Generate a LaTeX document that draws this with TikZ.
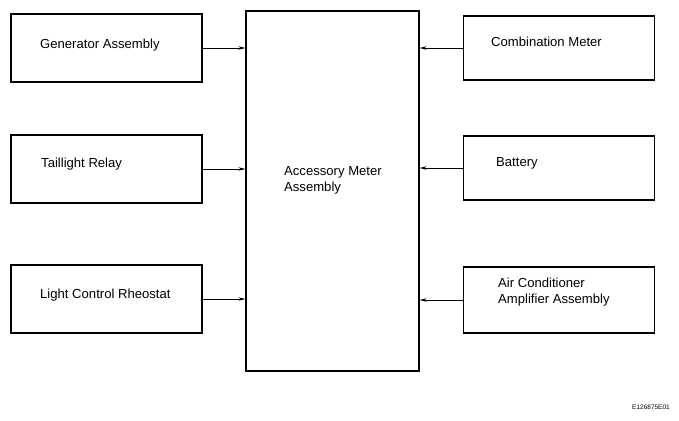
\documentclass[tikz,border=0pt]{standalone}
\usepackage{fontspec}
\setmainfont{Liberation Sans}
\usetikzlibrary{arrows.meta,positioning,calc}
\tikzstyle{block} = [rectangle, draw, line width=1.2pt, minimum width=191pt, minimum height=68pt, inner sep=0pt]
\tikzstyle{meterbox} = [rectangle, draw, line width=1.2pt, minimum width=173pt, minimum height=360pt, inner sep=0pt]
\tikzstyle{lbl} = [anchor=west, align=left, inner sep=0pt, font=\fontsize{13.1}{16}\selectfont]
\tikzstyle{line} = [line width=0.6pt, -{Stealth[length=7pt,width=3.5pt]}]

\begin{document}
\begin{tikzpicture}[x=1pt, y=-1pt]
    \useasboundingbox (0,0) rectangle (679,420);
    % left column
    \node[block] (gen) at (106.5,48) {};
    \node[block] (tail) at (106.5,169) {};
    \node[block] (rheo) at (106.5,299) {};
    % center
    \node[meterbox] (meter) at (332.5,191) {};
    % right column
    \node[block, minimum height=64pt] (comb) at (559,48) {};
    \node[block, minimum height=64pt] (batt) at (559,168) {};
    \node[block, minimum height=66pt] (aircon) at (559,300) {};

    \node[lbl] (gentxt) at (40,45) {Generator Assembly};
    \node[lbl] (tailtxt) at (41,164) {Taillight Relay};
    \node[lbl] (rheotxt) at (40,295) {Light Control Rheostat};
    \node[lbl] (metertxt) at (284,180) {Accessory Meter\\Assembly};
    \node[lbl] (combtxt) at (491,42) {Combination Meter};
    \node[lbl] (batttxt) at (496,163) {Battery};
    \node[lbl] (aircontxt) at (498,292) {Air Conditioner\\Amplifier Assembly};
    \node[anchor=east, inner sep=0pt, font=\fontsize{6.5}{7}\selectfont] (code) at (670,407) {E126875E01};

    \draw[line] (gen.east) -- (gen.east -| meter.west);
    \draw[line] (tail.east) -- (tail.east -| meter.west);
    \draw[line] (rheo.east) -- (rheo.east -| meter.west);
    \draw[line] (comb.west) -- (comb.west -| meter.east);
    \draw[line] (batt.west) -- (batt.west -| meter.east);
    \draw[line] (aircon.west) -- (aircon.west -| meter.east);
\end{tikzpicture}
\end{document}
